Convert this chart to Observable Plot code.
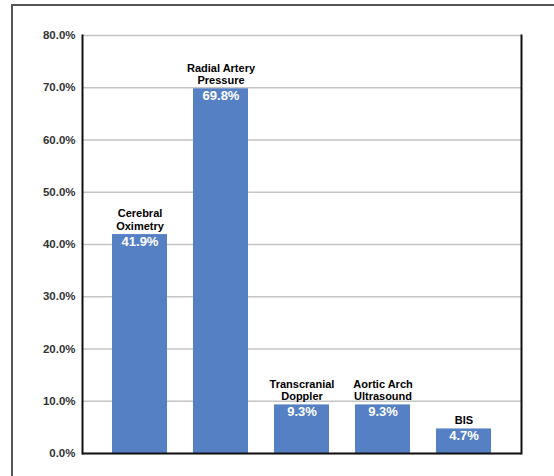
<!DOCTYPE html>
<html>
<head>
<meta charset="utf-8">
<script src="https://cdn.jsdelivr.net/npm/d3@7"></script>
<script src="https://cdn.jsdelivr.net/npm/@observablehq/plot@0.6"></script>
<style>
  html, body { margin: 0; padding: 0; background: #fff; overflow: hidden; }
  #wrap { position: relative; width: 554px; height: 476px; }
  #border { position: absolute; left: 11px; top: 4px; width: 600px; height: 600px;
            border-left: 2px solid #555; border-top: 2px solid #555; pointer-events: none; }
  #chart { position: absolute; left: 0; top: 0; }
</style>
</head>
<body>
<div id="wrap">
  <div id="chart"></div>
  <div id="border"></div>
</div>
<script>
const categories = ["Cerebral\nOximetry", "Radial Artery\nPressure", "Transcranial\nDoppler", "Aortic Arch\nUltrasound", "BIS"];
const values = [41.9, 69.8, 9.3, 9.3, 4.7];
const yTicks = [0, 10, 20, 30, 40, 50, 60, 70, 80];

const data = categories.map((c, i) => ({cat: c, value: values[i]}));
const font = "Liberation Sans, Arial, Helvetica, sans-serif";

const chart = Plot.plot({
  width: 554,
  height: 476,
  marginLeft: 82,
  marginRight: 33,
  marginTop: 35,
  marginBottom: 23,
  style: {fontFamily: font, background: "white"},
  x: {domain: categories, paddingInner: 0.317, paddingOuter: 0.34, axis: null, label: null},
  y: {domain: [0, 80], label: null},
  marks: [
    Plot.gridY(yTicks, {stroke: "#c4c4c4", strokeOpacity: 1, strokeWidth: 1.5}),
    Plot.axisY(yTicks, {label: null, tickSize: 0, tickPadding: 7, tickFormat: d => d.toFixed(1) + "%", fontSize: 11.5, fontWeight: 600, fill: "#333"}),
    Plot.barY(data, {x: "cat", y: "value", fill: "#5580c4"}),
    Plot.frame({anchor: "left", stroke: "#111", strokeWidth: 2}),
    Plot.frame({anchor: "right", stroke: "#111", strokeWidth: 2}),
    Plot.ruleY([0], {stroke: "#111", strokeWidth: 2}),
    Plot.text(data, {x: "cat", y: "value", text: "cat", lineAnchor: "bottom", dy: -5, fontSize: 11, fontWeight: "bold", fill: "#000", lineHeight: 1.1}),
    Plot.text(data, {x: "cat", y: "value", text: d => d.value.toFixed(1) + "%", lineAnchor: "top", dy: 2, fontSize: 13, fontWeight: "bold", fill: "white"})
  ]
});
document.getElementById("chart").appendChild(chart);
</script>
</body>
</html>
